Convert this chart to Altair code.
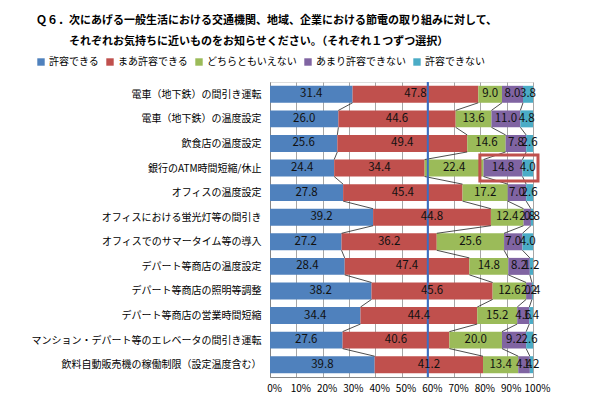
import json
import altair as alt
import pandas as pd

TITLE_LINES = [
    "Ｑ６．次にあげる一般生活における交通機関、地域、企業における節電の取り組みに対して、",
    "\u200b　　　それぞれお気持ちに近いものをお知らせください。（それぞれ１つずつ選択）",
]

CATEGORIES = [
    "電車（地下鉄）の間引き運転",
    "電車（地下鉄）の温度設定",
    "飲食店の温度設定",
    "銀行のATM時間短縮/休止",
    "オフィスの温度設定",
    "オフィスにおける蛍光灯等の間引き",
    "オフィスでのサマータイム等の導入",
    "デパート等商店の温度設定",
    "デパート等商店の照明等調整",
    "デパート等商店の営業時間短縮",
    "マンション・デパート等のエレベータの間引き運転",
    "飲料自動販売機の稼働制限（設定温度含む）",
]

SERIES = ["許容できる", "まあ許容できる", "どちらともいえない", "あまり許容できない", "許容できない"]
COLORS = ["#4F81BD", "#C0504D", "#9BBB59", "#8064A2", "#4BACC6"]

KYOYO = [31.4, 26.0, 25.6, 24.4, 27.8, 39.2, 27.2, 28.4, 38.2, 34.4, 27.6, 39.8]
MAA = [47.8, 44.6, 49.4, 34.4, 45.4, 44.8, 36.2, 47.4, 45.6, 44.4, 40.6, 41.2]
DOCHIRA = [9.0, 13.6, 14.6, 22.4, 17.2, 12.4, 25.6, 14.8, 12.6, 15.2, 20.0, 13.4]
AMARI = [8.0, 11.0, 7.8, 14.8, 7.0, 2.8, 7.0, 8.2, 2.2, 4.6, 9.2, 4.4]
DEKINAI = [3.8, 4.8, 2.6, 4.0, 2.6, 0.8, 4.0, 1.2, 0.4, 1.4, 2.6, 1.2]

REF_LINE = 60  # percent
HIGHLIGHT_ROW = "銀行のATM時間短縮/休止"
HIGHLIGHT_FROM = 79.8
HIGHLIGHT_TO = 101.9

FONT = "Noto Sans CJK JP"

rows = []
for s_idx, (name, vals) in enumerate(zip(SERIES, [KYOYO, MAA, DOCHIRA, AMARI, DEKINAI])):
    for r_idx, (cat, v) in enumerate(zip(CATEGORIES, vals)):
        rows.append({"row": r_idx, "cat": cat, "series": name, "sidx": s_idx, "value": v})
df = pd.DataFrame(rows)

HALF = 0.345

base = alt.Chart(df).transform_joinaggregate(
    total="sum(value)", groupby=["row"]
).transform_window(
    cum="sum(value)", sort=[alt.SortField("sidx")], groupby=["row"], frame=[None, 0]
).transform_calculate(
    x1="(datum.cum - datum.value) / datum.total",
    x2="datum.cum / datum.total",
    mid="(datum.cum - datum.value / 2) / datum.total",
    yt=f"datum.row - {HALF}",
    yb=f"datum.row + {HALF}",
    label="format(datum.value, '.1f')",
)

label_expr = "[" + ",".join(json.dumps(c, ensure_ascii=False) for c in CATEGORIES) + "][datum.value]"

xscale = alt.Scale(domain=[0, 1], nice=False, zero=False)
yscale = alt.Scale(domain=[-0.5, len(CATEGORIES) - 0.5], reverse=True, nice=False, zero=False)

x_axis = alt.Axis(
    values=[i / 10 for i in range(11)], format="%", title=None, grid=True,
    gridColor="#a6a6a6", gridWidth=1, ticks=False, domainColor="#868686",
    labelFont=FONT, labelFontSize=10, labelColor="#000", labelPadding=6,
    labelOverlap=False, labelFlush=False, labelOffset=4,
)
y_axis = alt.Axis(
    values=list(range(len(CATEGORIES))), labelExpr=label_expr, title=None, grid=False,
    ticks=False, domainColor="#868686", labelFont=FONT, labelFontSize=10,
    labelColor="#000", labelPadding=9, labelLimit=400, labelOverlap=False,
    labelFlush=False,
)


def X(field):
    return alt.X(field, scale=xscale, axis=x_axis)


def Y(field):
    return alt.Y(field, scale=yscale, axis=y_axis)


bars = base.mark_bar(stroke=None).encode(
    x=X("x1:Q"),
    x2="x2:Q",
    y=Y("yt:Q"),
    y2="yb:Q",
    color=alt.Color(
        "series:N",
        scale=alt.Scale(domain=SERIES, range=COLORS),
        legend=alt.Legend(
            orient="none", direction="horizontal", legendX=-234, legendY=-25,
            title=None, symbolType="square", symbolSize=55, symbolStrokeWidth=0,
            labelFont=FONT, labelFontSize=10, labelColor="#000",
            columnPadding=6, labelOffset=3,
        ),
        sort=SERIES,
    ),
)

series_lines = base.transform_window(
    nx2="lead(x2)", sort=[alt.SortField("row")], groupby=["sidx"]
).transform_filter(
    "datum.sidx < 4 && isValid(datum.nx2)"
).transform_calculate(
    ya=f"datum.row + {HALF}", yc=f"datum.row + 1 - {HALF}"
).mark_rule(color="#222", strokeWidth=0.8).encode(
    x=X("x2:Q"), x2="nx2:Q",
    y=Y("ya:Q"), y2="yc:Q",
)

texts = base.mark_text(font=FONT, fontSize=11.5, color="#111", baseline="middle").encode(
    x=X("mid:Q"),
    y=Y("row:Q"),
    text="label:N",
)

ref = alt.Chart(pd.DataFrame({"v": [REF_LINE / 100]})).mark_rule(
    color="#3A6FC4", strokeWidth=2
).encode(x=X("v:Q"))

hl_row = CATEGORIES.index(HIGHLIGHT_ROW)
box = alt.Chart(pd.DataFrame({
    "a": [HIGHLIGHT_FROM / 100], "b": [HIGHLIGHT_TO / 100],
    "t": [hl_row - 0.53], "u": [hl_row + 0.53],
})).mark_rect(fill=None, stroke="#C0504D", strokeWidth=3).encode(
    x=X("a:Q"), x2="b:Q",
    y=Y("t:Q"), y2="u:Q",
)

chart = alt.layer(bars, series_lines, ref, texts, box).properties(
    width=263, height=295,
    padding={"left": 262, "top": 74, "right": 50, "bottom": 20},
    autosize=alt.AutoSizeParams(type="none"),
    title=alt.TitleParams(
        text=TITLE_LINES, anchor="start", frame="group", dx=-234, offset=10,
        font=FONT, fontSize=11, fontWeight="bold", color="#000", lineHeight=21,
    ),
).configure_view(stroke="#a0a0a0").configure_axis(labelOverlap=False).configure(background="white")

chart.save("out.html", embed_options={"renderer": "svg", "actions": False})
